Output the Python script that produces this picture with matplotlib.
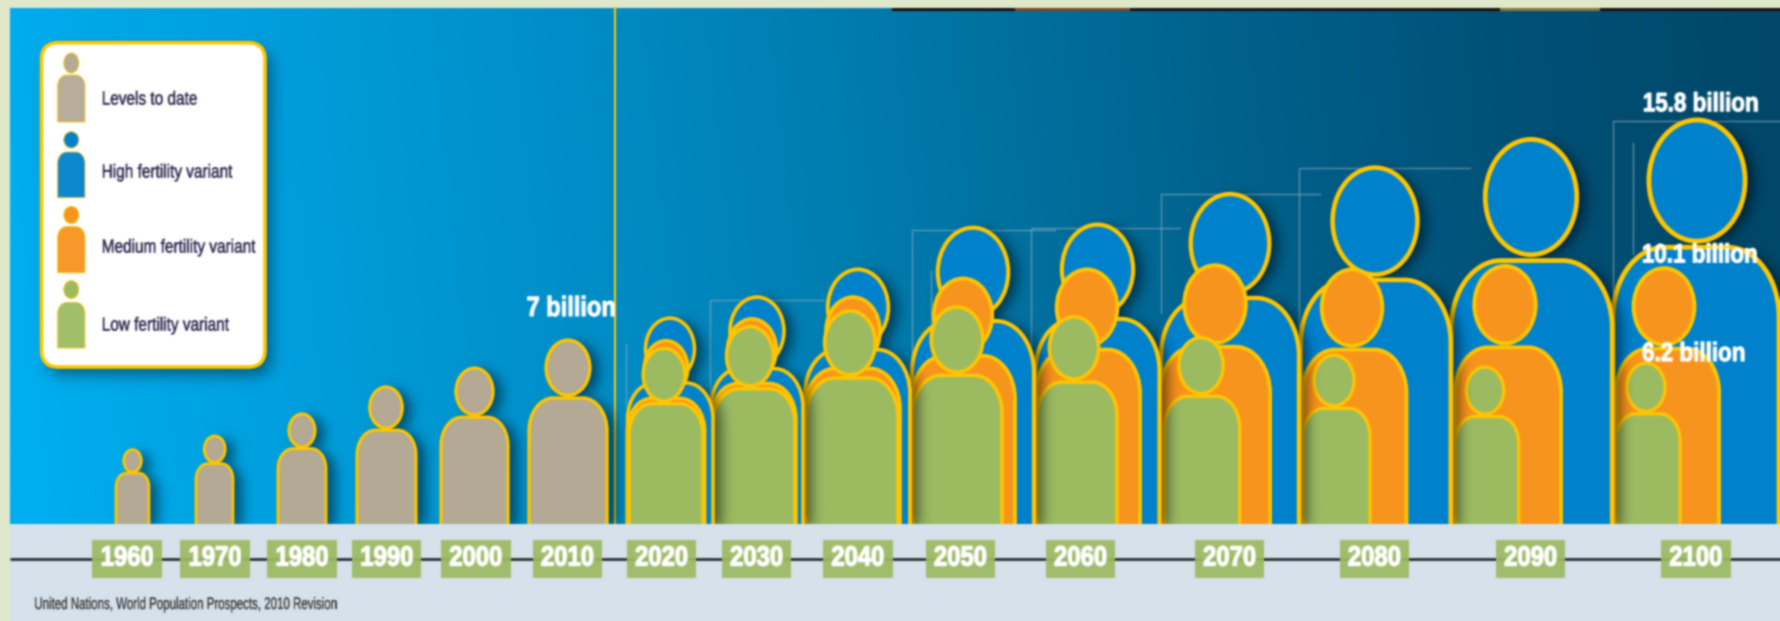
import numpy as np
import matplotlib
matplotlib.use("Agg")
import matplotlib.pyplot as plt
import matplotlib.patheffects as pe
from matplotlib.colors import to_rgb
from matplotlib.path import Path
from matplotlib.patches import PathPatch, Ellipse, Rectangle, FancyBboxPatch
from matplotlib.transforms import Affine2D

hist_years = [1960, 1970, 1980, 1990, 2000, 2010]
hist_pop = [2.87, 3.40, 4.25, 5.29, 6.02, 7.10]
proj_years = [2020, 2030, 2040, 2050, 2060, 2070, 2080, 2090, 2100]
high_pop = [7.95, 8.76, 9.83, 11.44, 11.56, 12.74, 13.76, 14.85, 15.60]
med_pop = [7.08, 7.92, 8.76, 9.48, 9.83, 9.99, 9.83, 9.96, 9.88]
low_pop = [6.78, 7.62, 8.23, 8.38, 8.00, 7.20, 6.52, 6.06, 6.21]
legend_labels = ["Levels to date", "High fertility variant", "Medium fertility variant", "Low fertility variant"]
callouts = ["7 billion", "15.8 billion", "10.1 billion", "6.2 billion"]
source_text = "United Nations, World Population Prospects, 2010 Revision"

# ---- layout (pixels) ----
W, H = 1780, 621
BASE_Y, TOP_Y, LEFT_X = 524, 8, 10
PX_PER_BN = 25.9
hist_cx = [132.5, 214.5, 302, 386.5, 474.5, 568]
hist_w = [33, 37, 48, 59, 67, 78]
hist_hx = [132.5, 214.7, 302, 386, 474.5, 568]
high_cx = [670.25, 757, 857.5, 973, 1097.5, 1230, 1375.75, 1531.75, 1696]
high_w = [85.5, 92, 105, 122, 124, 138, 150, 161, 166]
high_hx = [670, 757, 858, 973, 1097.5, 1230, 1375, 1531, 1697]
med_cx = [666, 753.5, 852.5, 963.5, 1088, 1215, 1354.5, 1508, 1667.5]
med_w = [77.5, 85, 95, 103, 104, 110, 104, 106, 103]
med_hx = [666, 752, 853, 963, 1087, 1215, 1352, 1505, 1664]
low_cx = [666, 754, 852, 957.5, 1077, 1202, 1336.5, 1487, 1648]
low_w = [74, 82, 92, 89, 80, 75.5, 67, 63.5, 64]
low_hx = [664, 750, 850, 957, 1074, 1201, 1334, 1485, 1646]
tick_cx = [127, 214.75, 301.75, 386.5, 475.75, 567.3, 661.5, 756.5, 857.75, 960.3, 1080.5, 1229.5, 1374.3, 1530.5, 1695.75]
brackets = [
    [(626, 404), (626, 343.8)],
    [(710, 396), (710, 299.8), (824, 299.8)],
    [(912, 380), (912, 229.7), (1055, 229.7)],
    [(931, 328.7), (931, 271.3)],
    [(1030.5, 344.6), (1030.5, 227.7), (1180, 227.7)],
    [(1161.4, 312.9), (1161.4, 194), (1320, 194)],
    [(1299.4, 332.7), (1299.4, 168.3), (1470, 168.3)],
    [(1613, 316.8), (1613, 120.8), (1780, 120.8)],
    [(1633, 253.5), (1633, 142.6)],
]
legend_box = (41.5, 42.7, 223.5, 324.3)
legend_heads = [(53, 73), (131.7, 148), (206.4, 223.4), (280.7, 298.5)]
legend_bodies = [(75, 122), (152, 197.7), (226.6, 272.8), (302.5, 348)]
legend_text_y = [100, 173, 248, 326]
callout_xy = [(570.8, 309), (1701, 104.2), (1700, 255.4), (1694, 354)]

# ---- style ----
YELLOW = "#FFC600"
TAN, BLUE, ORANGE, GREEN = "#B3A995", "#0081CC", "#F7941D", "#9CBB62"
SANS = ["Liberation Sans", "DejaVu Sans"]


def gauss(a, sigma):
    r = int(3 * sigma) + 1
    x = np.arange(-r, r + 1)
    g = np.exp(-x ** 2 / (2 * sigma ** 2))
    g /= g.sum()
    p = np.pad(a, r, mode="edge")
    for axis in (0, 1):
        out = np.zeros_like(p)
        for k, v in zip(x, g):
            out += v * np.roll(p, k, axis=axis)
        p = out
    return p[r:-r, r:-r]


def shadow_filter(ox, oy, sigma, opacity):
    def f(im, dpi):
        pad = int(3 * sigma) + 2
        a = np.pad(im[..., 3], pad)
        out = np.zeros(a.shape + (4,), dtype=im.dtype)
        out[..., 3] = gauss(a, sigma) * opacity
        return out, ox - pad, -oy - pad
    return f


def squeeze_filter(scale, color, centered):
    """Condense a text horizontally: the installed fonts have no narrow face."""
    rgb = to_rgb(color)

    def f(im, dpi):
        h, w = im.shape[:2]
        nw = max(1, int(round(w * scale)))
        xi = np.clip((np.arange(nw) + 0.5) / scale - 0.5, 0, w - 1.001)
        i0 = xi.astype(int)
        fr = xi - i0
        a = im[:, i0, 3] * (1 - fr) + im[:, i0 + 1, 3] * fr
        out = np.zeros((h, nw, 4), dtype=im.dtype)
        out[..., 0], out[..., 1], out[..., 2] = rgb
        out[..., 3] = a
        return out, int(round((w - nw) / 2)) if centered else 0, 0
    return f


def soften(im, dpi):
    out = im.copy()
    for c in range(4):
        out[..., c] = gauss(im[..., c], 0.9)
    return out, 0, 0


def body_path(cx, w, base, top, rx, ry):
    """Counter-clockwise when y points up."""
    k = 0.5523
    l, r = cx - w / 2, cx + w / 2
    s = 1 if top > base else -1
    v = [(r, base), (r, top - s * ry),
         (r, top - s * ry * (1 - k)), (r - rx * (1 - k), top), (r - rx, top),
         (l + rx, top),
         (l + rx * (1 - k), top), (l, top - s * ry * (1 - k)), (l, top - s * ry),
         (l, base), (r, base)]
    c = [Path.MOVETO, Path.LINETO, Path.CURVE4, Path.CURVE4, Path.CURVE4, Path.LINETO,
         Path.CURVE4, Path.CURVE4, Path.CURVE4, Path.LINETO, Path.CLOSEPOLY]
    return Path(v, c)


def person(cx, w, hx, pop):
    top = 0.685 * pop
    body = body_path(cx, w, -0.5, top, 0.31 * w, 0.42 * w / PX_PER_BN)
    head_w = 0.238 * pop * PX_PER_BN
    head_h = 0.30 * pop
    head = Path.unit_circle().transformed(
        Affine2D().scale(head_w / 2, head_h / 2).translate(hx, pop - head_h / 2))
    return body, head


fig = plt.figure(figsize=(W / 100, H / 100), dpi=100, facecolor="#E0E8CC")


def pixel_axes(z):
    a = fig.add_axes([0, 0, 1, 1], zorder=z)
    a.set_xlim(0, W)
    a.set_ylim(H, 0)
    a.axis("off")
    a.patch.set_visible(False)
    return a


# background layer
bg = pixel_axes(0)
xs = np.linspace(0, 1, 400)
ys = np.linspace(0, 1, 60)
gx, gy = np.meshgrid(xs, ys)
t = np.clip(gx + 0.03 * (0.5 - gy), 0, 1)
stops = [0, 0.32, 0.5, 0.66, 0.85, 1]
r = np.zeros_like(t)
g = np.interp(t, stops, [174, 142, 122, 102, 82, 72])
b = np.interp(t, stops, [239, 200, 172, 146, 120, 106])
bg.imshow(np.dstack([r, g, b]) / 255, extent=(LEFT_X, W, BASE_Y, TOP_Y), aspect="auto", zorder=0,
          interpolation="bilinear")
bg.set_xlim(0, W)
bg.set_ylim(H, 0)
bg.add_patch(Rectangle((892, TOP_Y), W - 892, 2.5, fc="#1A120C", ec="none", zorder=1))
bg.add_patch(Rectangle((1015, TOP_Y), 115, 2.5, fc="#7A4A22", ec="none", zorder=1))
bg.add_patch(Rectangle((1500, TOP_Y), 100, 2.5, fc="#8A7A40", ec="none", zorder=1))
bg.plot([615, 615], [TOP_Y, BASE_Y], color=YELLOW, lw=1.5, zorder=2)
for br in brackets:
    bx, by = zip(*br)
    bg.plot(bx, by, color="#8FA9BE", lw=1.0, alpha=0.65, zorder=2, solid_joinstyle="miter")

# chart layer: y in billions above the baseline
chart = fig.add_axes([0, (H - BASE_Y) / H, 1, (BASE_Y - TOP_Y) / H], zorder=1)
chart.set_xlim(0, W)
chart.set_ylim(0, (BASE_Y - TOP_Y) / PX_PER_BN)
chart.axis("off")
chart.patch.set_visible(False)


def draw_group(members, z):
    paths = []
    for cx, w, hx, pop, col in members:
        paths.extend(person(cx, w, hx, pop))
    shadow = PathPatch(Path.make_compound_path(*paths), fc="black", ec="none", zorder=z)
    shadow.set_agg_filter(shadow_filter(9, 3, 6, 0.5))
    chart.add_patch(shadow)
    for i, (cx, w, hx, pop, col) in enumerate(members):
        lw = 1.6 + 0.12 * pop
        body, head = person(cx, w, hx, pop)
        chart.add_patch(PathPatch(body, fc=col, ec=YELLOW, lw=lw, zorder=z + 0.1 + i * 0.1))
        chart.add_patch(PathPatch(head, fc=col, ec=YELLOW, lw=lw, zorder=z + 0.15 + i * 0.1))


# right-most decade first so each shadow falls on its right neighbour
z = 1
for i in reversed(range(len(proj_years))):
    draw_group([(high_cx[i], high_w[i], high_hx[i], high_pop[i], BLUE),
                (med_cx[i], med_w[i], med_hx[i], med_pop[i], ORANGE),
                (low_cx[i], low_w[i], low_hx[i], low_pop[i], GREEN)], z)
    z += 1
for i in reversed(range(len(hist_years))):
    draw_group([(hist_cx[i], hist_w[i], hist_hx[i], hist_pop[i], TAN)], z)
    z += 1


# foreground layer
fg = pixel_axes(2)


def label(x, y, s, color, size, scale, bold=False, ha="center", zo=6, fatten=0.0):
    t_ = fg.text(x, y, s, color=color, fontsize=size, fontweight="bold" if bold else "normal",
                 family=SANS, ha=ha, va="center", zorder=zo)
    if fatten:
        t_.set_path_effects([pe.withStroke(linewidth=fatten, foreground=color)])
    t_.set_agg_filter(squeeze_filter(scale, color, ha == "center"))
    return t_


fg.add_patch(Rectangle((LEFT_X, BASE_Y), W - LEFT_X, H - BASE_Y, fc="#D5E2EC", ec="none", zorder=1))
fg.plot([LEFT_X, W], [559, 559], color="#2E2E2E", lw=2.0, zorder=2, solid_capstyle="butt")
for cx, yr in zip(tick_cx, hist_years + proj_years):
    fg.add_patch(Rectangle((cx - 34.75, 540), 69.5, 38, fc=GREEN, ec="none", alpha=0.93, zorder=3))
    label(cx + 0.5, 558.5, str(yr), "#FFFFFF", 20, 0.86, bold=True, zo=4, fatten=1.0)
label(34, 604.5, source_text, "#3E3E3E", 12, 0.69, ha="left", zo=4, fatten=0.2)

sizes = [20, 19, 19, 19]
for txt, (tx, ty), sz in zip(callouts, callout_xy, sizes):
    label(tx, ty, txt, "#FFFFFF", sz, 0.85, bold=True, fatten=0.8)

lx, ly, lw_, lh_ = legend_box
sh = FancyBboxPatch((lx, ly), lw_, lh_, boxstyle="round,pad=0,rounding_size=17", fc="black", ec="none", zorder=4)
sh.set_agg_filter(shadow_filter(6, 8, 7, 0.42))
fg.add_patch(sh)
fg.add_patch(FancyBboxPatch((lx, ly), lw_, lh_, boxstyle="round,pad=0,rounding_size=17",
                            fc="white", ec=YELLOW, lw=2.6, zorder=5))
for name, col, (h0, h1), (b0, b1), ty in zip(legend_labels, [TAN, BLUE, ORANGE, GREEN],
                                             legend_heads, legend_bodies, legend_text_y):
    fg.add_patch(PathPatch(body_path(71.3, 27.3, b1, b0, 9, 11), fc=col, ec=YELLOW, lw=0.6, alpha=0.95, zorder=6))
    fg.add_patch(Ellipse((71.3, (h0 + h1) / 2), 15, h1 - h0, fc=col, ec=YELLOW, lw=0.6, zorder=6))
    label(101.6, ty, name, "#2B2A50", 13.5, 0.82, ha="left", fatten=0.3)

fig.set_agg_filter(soften)
fig.savefig("out.png", dpi=100, facecolor=fig.get_facecolor())
